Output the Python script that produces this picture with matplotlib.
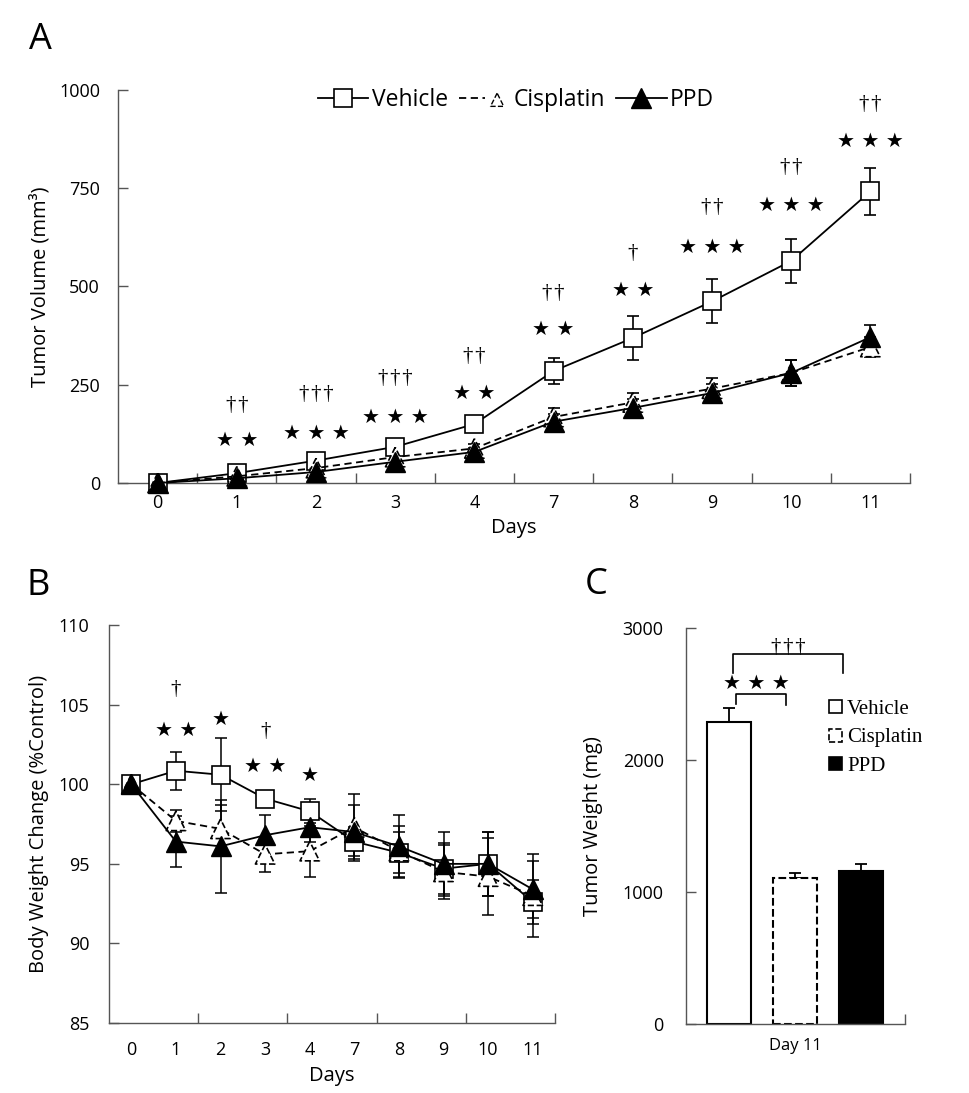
import matplotlib
matplotlib.use('Agg')
import matplotlib.pyplot as plt
from matplotlib.lines import Line2D
from matplotlib.patches import Patch
from matplotlib.legend_handler import HandlerTuple
import numpy as np

plt.rcParams['font.family'] = ['Open Sans', 'DejaVu Sans']

# ---------------- data ----------------
days = ['0', '1', '2', '3', '4', '7', '8', '9', '10', '11']

vol_vehicle = [0, 25, 57, 92, 150, 285, 369, 462, 565, 742]
vol_vehicle_err = [0, 5, 8, 10, 10, 32, 55, 56, 57, 60]
vol_cisplatin = [0, 17, 38, 66, 88, 168, 205, 240, 280, 346]
vol_cisplatin_err = [0, 5, 6, 8, 10, 22, 25, 28, 32, 26]
vol_ppd = [0, 12, 28, 54, 79, 156, 191, 229, 280, 371]
vol_ppd_err = [0, 5, 6, 8, 10, 20, 22, 24, 33, 31]

starsA = ['★ ★', '★ ★ ★', '★ ★ ★', '★ ★', '★ ★', '★ ★', '★ ★ ★', '★ ★ ★', '★ ★ ★']
daggersA = ['††', '†††', '†††', '††', '††', '†', '††', '††', '††']
starsA_y = [109, 125, 168, 229, 392, 491, 600, 705, 868]
daggersA_y = [198, 224, 267, 321, 483, 585, 700, 802, 962]

bw_vehicle = [100, 100.85, 100.6, 99.1, 98.3, 96.4, 95.7, 94.7, 95.0, 92.6]
bw_vehicle_err = [0.3, 1.2, 2.3, 0.5, 0.75, 0.9, 1.3, 1.6, 2.0, 1.4]
bw_cisplatin = [100, 97.7, 97.2, 95.6, 95.8, 97.3, 95.8, 94.5, 94.2, 93.0]
bw_cisplatin_err = [0.3, 0.7, 1.5, 1.1, 1.6, 2.1, 1.6, 1.7, 2.4, 2.6]
bw_ppd = [100, 96.4, 96.1, 96.8, 97.3, 97.0, 96.1, 95.0, 95.0, 93.4]
bw_ppd_err = [0.3, 1.6, 2.9, 1.25, 0.9, 1.7, 2.0, 2.0, 2.0, 1.8]

starsB_idx = [1, 2, 3, 4]
starsB = ['★ ★', '★', '★ ★', '★']
starsB_y = [103.4, 104.05, 101.1, 100.57]
daggersB_idx = [1, 3]
daggersB = ['†', '†']
daggersB_y = [105.95, 103.3]

groups = ['Vehicle', 'Cisplatin', 'PPD']
weight = [2290, 1104, 1161]
weight_err = [105, 42, 49]

# ---------------- figure ----------------
fig = plt.figure(figsize=(9.69, 10.93), dpi=100)
axA = fig.add_axes([0.1218, 0.5581, 0.8173, 0.3596])
axB = fig.add_axes([0.1125, 0.0640, 0.4603, 0.3641])
axC = fig.add_axes([0.7079, 0.0631, 0.2260, 0.3623])

SPC = '#555555'
DASH = (0, (4, 2.5))
STAR_FONT = ['DejaVu Sans']
DAG_FONT = ['Liberation Serif', 'DejaVu Serif']
STAR_FS = 14.5
DAG_FS = 15
HS = '\u200a'


def dag(s):
    return HS.join(s)


def style(ax, ypad):
    for s in ['top', 'right']:
        ax.spines[s].set_visible(False)
    for s in ['left', 'bottom']:
        ax.spines[s].set_color(SPC)
        ax.spines[s].set_linewidth(1.0)
    ax.tick_params(axis='y', direction='in', length=7, width=1, color=SPC,
                   labelsize=13, pad=ypad)
    ax.tick_params(axis='x', which='major', length=0, labelsize=13)
    ax.tick_params(axis='x', which='minor', direction='in', length=7, width=1,
                   color=SPC)


# ---------------- Panel A ----------------
x = np.arange(len(days))
axA.errorbar(x, vol_vehicle, yerr=vol_vehicle_err, fmt='none', ecolor='k',
             elinewidth=1.2, capsize=4, capthick=1.2, zorder=2, clip_on=False)
axA.errorbar(x, vol_cisplatin, yerr=vol_cisplatin_err, fmt='none', ecolor='k',
             elinewidth=1.2, capsize=4, capthick=1.2, zorder=2, clip_on=False)
axA.errorbar(x, vol_ppd, yerr=vol_ppd_err, fmt='none', ecolor='k',
             elinewidth=1.2, capsize=4, capthick=1.2, zorder=2, clip_on=False)
axA.plot(x, vol_vehicle, color='k', lw=1.3, marker='s', ms=12.5, mfc='white',
         mec='k', mew=1.2, zorder=3, clip_on=False)
axA.plot(x, vol_cisplatin, color='k', lw=1.3, ls=DASH, zorder=3, clip_on=False)
axA.scatter(x, vol_cisplatin, marker='^', s=14 ** 2, facecolors='white',
            edgecolors='k', linewidths=1.2, linestyles='--', zorder=4,
            clip_on=False)
axA.plot(x, vol_ppd, color='k', lw=1.3, marker='^', ms=14, mfc='k', mec='k',
         zorder=5, clip_on=False)

for i in range(len(starsA)):
    axA.text(x[i + 1], starsA_y[i], starsA[i], ha='center', va='center',
             fontsize=STAR_FS, family=STAR_FONT)
    axA.text(x[i + 1], daggersA_y[i], dag(daggersA[i]), ha='center',
             va='center', fontsize=DAG_FS, family=DAG_FONT)

axA.set_xlim(-0.5, len(days) - 0.5)
axA.set_ylim(0, 1000)
axA.set_yticks([0, 250, 500, 750, 1000])
axA.set_xticks(x)
axA.set_xticklabels(days)
axA.set_xticks(np.arange(0.5, len(days), 1), minor=True)
style(axA, 13)
axA.tick_params(axis='x', which='major', pad=8)
axA.set_xlabel('Days', fontsize=14.5, labelpad=4)
axA.set_ylabel('Tumor Volume (mm³)', fontsize=14.5, labelpad=6)

h_v = Line2D([], [], color='k', lw=1.3, marker='s', ms=12.5, mfc='white',
             mec='k', mew=1.2)
h_c_line = Line2D([], [], color='k', lw=1.3, ls=DASH)
h_c_mark = axA.scatter([], [], marker='^', s=90, facecolors='white',
                       edgecolors='k', linewidths=1.0, linestyles='--')
h_p = Line2D([], [], color='k', lw=1.3, marker='^', ms=14, mfc='k', mec='k')
axA.legend([h_v, (h_c_line, h_c_mark), h_p], groups,
           handler_map={tuple: HandlerTuple(ndivide=None)},
           loc='center', bbox_to_anchor=(0.5025, 0.975), ncol=3,
           frameon=False, fontsize=16.5, handlelength=2.2, handletextpad=0.15,
           columnspacing=0.5, borderaxespad=0, borderpad=0)

# ---------------- Panel B ----------------
axB.errorbar(x, bw_vehicle, yerr=bw_vehicle_err, fmt='none', ecolor='k',
             elinewidth=1.1, capsize=4, capthick=1.1, zorder=2)
axB.errorbar(x, bw_cisplatin, yerr=bw_cisplatin_err, fmt='none', ecolor='k',
             elinewidth=1.1, capsize=4, capthick=1.1, zorder=2)
axB.errorbar(x, bw_ppd, yerr=bw_ppd_err, fmt='none', ecolor='k',
             elinewidth=1.1, capsize=4, capthick=1.1, zorder=2)
axB.plot(x, bw_vehicle, color='k', lw=1.3, marker='s', ms=13, mfc='white',
         mec='k', mew=1.2, zorder=3)
axB.plot(x, bw_cisplatin, color='k', lw=1.3, ls=DASH, zorder=4)
axB.scatter(x, bw_cisplatin, marker='^', s=14 ** 2, facecolors='white',
            edgecolors='k', linewidths=1.2, linestyles='--', zorder=4)
axB.plot(x, bw_ppd, color='k', lw=1.3, marker='^', ms=14, mfc='k', mec='k',
         zorder=5)

for i, t, yv in zip(starsB_idx, starsB, starsB_y):
    axB.text(x[i], yv, t, ha='center', va='center', fontsize=STAR_FS,
             family=STAR_FONT)
for i, t, yv in zip(daggersB_idx, daggersB, daggersB_y):
    axB.text(x[i], yv, t, ha='center', va='center', fontsize=DAG_FS,
             family=DAG_FONT)

axB.set_xlim(-0.5, len(days) - 0.5)
axB.set_ylim(85, 110)
axB.set_yticks([85, 90, 95, 100, 105, 110])
axB.set_xticks(x)
axB.set_xticklabels(days)
axB.set_xticks(np.arange(1.5, len(days), 2), minor=True)
style(axB, 14)
axB.tick_params(axis='x', which='major', pad=13)
axB.set_xlabel('Days', fontsize=14.5, labelpad=5)
axB.set_ylabel('Body Weight Change (%Control)', fontsize=14.5, labelpad=7)

# ---------------- Panel C ----------------
xc = np.arange(len(groups)) - 1.0
bw = 0.667
axC.bar(xc[0], weight[0], width=bw, color='white', edgecolor='k', lw=1.5,
        zorder=2)
axC.bar(xc[1], weight[1], width=bw, color='white', edgecolor='k', lw=1.5,
        linestyle='--', zorder=2)
axC.bar(xc[2], weight[2], width=bw, color='k', edgecolor='k', lw=1.5,
        zorder=2)
axC.errorbar(xc, weight, yerr=[[0] * 3, weight_err], fmt='none', ecolor='k',
             elinewidth=1.3, capsize=4, capthick=1.3, zorder=1)

# significance brackets
b1_l, b1_r, b1_top, b1_bot = xc[0] + 0.1, xc[1] - 0.14, 2500, 2424
axC.plot([b1_l, b1_l, b1_r, b1_r], [b1_bot, b1_top, b1_top, b1_bot - 10],
         color='k', lw=1.2)
axC.text((b1_l + b1_r) / 2 - 0.07, 2583, '★ ★ ★', ha='center', va='center',
         fontsize=STAR_FS, family=STAR_FONT)
b2_l, b2_r, b2_top, b2_bot = xc[0] + 0.05, xc[2] - 0.28, 2803, 2659
axC.plot([b2_l, b2_l, b2_r, b2_r], [b2_bot, b2_top, b2_top, b2_bot],
         color='k', lw=1.2)
axC.text((b2_l + b2_r) / 2 - 0.0, 2856, dag('†††'), ha='center',
         va='center', fontsize=DAG_FS, family=DAG_FONT)

axC.set_xlim(-1.66, 1.66)
axC.set_ylim(0, 3000)
axC.set_yticks([0, 1000, 2000, 3000])
axC.set_xticks([0])
axC.set_xticklabels(['Day 11'])
axC.set_xticks([1.66], minor=True)
style(axC, 16)
axC.tick_params(axis='x', which='major', pad=10, labelsize=12)
axC.set_ylabel('Tumor Weight (mg)', fontsize=14.5, labelpad=14)

leg_handles = [Patch(facecolor='white', edgecolor='k', lw=1.2),
               Patch(facecolor='white', edgecolor='k', lw=1.2, linestyle='--'),
               Patch(facecolor='k', edgecolor='k', lw=1.2)]
axC.legend(leg_handles, groups, loc='upper left', bbox_to_anchor=(0.655, 0.818),
           frameon=False, prop={'family': ['Liberation Serif', 'DejaVu Serif'],
                                'size': 15},
           handlelength=0.6, handleheight=0.6, handletextpad=0.25,
           labelspacing=0.45, borderpad=0, borderaxespad=0)

# panel letters
fig.text(40 / 969, 1 - 40 / 1093, 'A', fontsize=26, ha='center', va='center')
fig.text(38 / 969, 1 - 586 / 1093, 'B', fontsize=26, ha='center', va='center')
fig.text(596 / 969, 1 - 585 / 1093, 'C', fontsize=26, ha='center', va='center')

fig.savefig('out.png', dpi=100)
